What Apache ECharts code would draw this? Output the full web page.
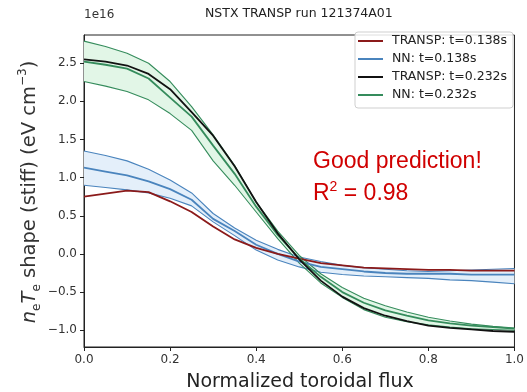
<!DOCTYPE html>
<html>
<head>
<meta charset="utf-8">
<script src="https://cdn.jsdelivr.net/npm/echarts@6/dist/echarts.min.js"></script>
<style>
  html, body { margin: 0; padding: 0; background: #fff; }
  #chart { width: 527px; height: 392px; }
</style>
</head>
<body>
<div id="chart"></div>
<script>
// Radial grid (normalized toroidal flux)
const fluxGrid = [0.00, 0.05, 0.10, 0.15, 0.20, 0.25, 0.30, 0.35, 0.40, 0.45, 0.50,
                  0.55, 0.60, 0.65, 0.70, 0.75, 0.80, 0.85, 0.90, 0.95, 1.00];

// Profiles in units of 1e16
const transp138 = [0.75, 0.79, 0.83, 0.81, 0.69, 0.55, 0.36, 0.19, 0.08, 0.00, -0.06,
                   -0.12, -0.15, -0.18, -0.19, -0.20, -0.21, -0.21, -0.22, -0.22, -0.22];
const nn138Mean  = [1.13, 1.08, 1.03, 0.95, 0.85, 0.71, 0.46, 0.30, 0.12, 0.00, -0.10,
                    -0.17, -0.20, -0.23, -0.25, -0.26, -0.26, -0.26, -0.27, -0.27, -0.27];
const nn138Upper = [1.35, 1.29, 1.22, 1.11, 0.97, 0.80, 0.53, 0.34, 0.18, 0.06, -0.04,
                    -0.10, -0.15, -0.18, -0.20, -0.22, -0.23, -0.22, -0.21, -0.20, -0.19];
const nn138Lower = [0.90, 0.87, 0.84, 0.80, 0.73, 0.63, 0.42, 0.24, 0.05, -0.08, -0.17,
                    -0.24, -0.27, -0.29, -0.30, -0.31, -0.32, -0.34, -0.35, -0.37, -0.39];

const transp232  = [2.55, 2.52, 2.47, 2.36, 2.16, 1.86, 1.55, 1.15, 0.68, 0.27, -0.07,
                    -0.35, -0.56, -0.71, -0.81, -0.88, -0.94, -0.97, -0.99, -1.01, -1.02];
const nn232Mean  = [2.52, 2.48, 2.43, 2.30, 2.05, 1.80, 1.42, 1.05, 0.62, 0.25, -0.06,
                    -0.30, -0.50, -0.64, -0.74, -0.81, -0.87, -0.91, -0.94, -0.96, -0.98];
const nn232Upper = [2.79, 2.72, 2.63, 2.50, 2.26, 1.93, 1.56, 1.16, 0.68, 0.30, -0.02,
                    -0.26, -0.44, -0.58, -0.68, -0.76, -0.83, -0.88, -0.92, -0.95, -0.97];
const nn232Lower = [2.26, 2.20, 2.13, 2.02, 1.84, 1.62, 1.22, 0.90, 0.55, 0.20, -0.12,
                    -0.38, -0.57, -0.73, -0.83, -0.89, -0.93, -0.96, -0.98, -0.99, -1.00];

const yTicks = [-1.0, -0.5, 0.0, 0.5, 1.0, 1.5, 2.0, 2.5];

const legendNames = ['TRANSP: t=0.138s', 'NN: t=0.138s', 'TRANSP: t=0.232s', 'NN: t=0.232s'];

const C_RED = '#8b1a1a', C_BLUE = '#4a84bd', C_BLACK = '#111111', C_GREEN = '#358c5c';
const FONT = 'DejaVu Sans';

const pairs = ys => fluxGrid.map((x, i) => [x, ys[i]]);
const fmt = v => (v < 0 ? '\u2212' : '') + Math.abs(v).toFixed(1);

// Shaded uncertainty band between lower and upper NN profiles, drawn as one polygon
function bandSeries(lower, upper, fill) {
  return {
    type: 'custom', silent: true, z: 1,
    data: fluxGrid.map((x, i) => [x, lower[i], upper[i]]),
    encode: { x: 0, y: [1, 2] },
    renderItem: (params, api) => {
      if (params.dataIndex !== 0) return null;
      const top = fluxGrid.map((x, i) => api.coord([x, upper[i]]));
      const bot = fluxGrid.map((x, i) => api.coord([x, lower[i]])).reverse();
      return { type: 'polygon', shape: { points: top.concat(bot) },
               style: { fill, stroke: null } };
    }
  };
}
function lineSeries(name, ys, color, width, z) {
  return { type: 'line', name, data: pairs(ys), symbol: 'none', z,
           itemStyle: { color }, lineStyle: { color, width } };
}

const chart = echarts.init(document.getElementById('chart'), null, { renderer: 'canvas' });

chart.setOption({
  animation: false,
  backgroundColor: '#fff',
  grid: { left: 84, right: 11, top: 35, bottom: 45, show: true,
          borderColor: '#222', borderWidth: 1, backgroundColor: 'transparent' },
  xAxis: {
    type: 'value', min: 0, max: 1, interval: 0.2,
    axisLine: { show: true, onZero: false, lineStyle: { color: '#222', width: 1 } },
    axisTick: { show: true, length: 4, lineStyle: { color: '#222' } },
    axisLabel: { margin: 7, color: '#333', fontFamily: FONT, fontSize: 12,
                 formatter: v => fmt(v) },
    splitLine: { show: false }
  },
  yAxis: {
    type: 'value', min: -1.22, max: 2.87,
    axisLine: { show: true, onZero: false, lineStyle: { color: '#222', width: 1 } },
    axisTick: { show: true, length: 4, customValues: yTicks, lineStyle: { color: '#222' } },
    axisLabel: { margin: 7, color: '#333', fontFamily: FONT, fontSize: 12,
                 customValues: yTicks, formatter: v => fmt(v) },
    splitLine: { show: false }
  },
  legend: {
    data: legendNames,
    orient: 'vertical', left: 355, top: 32,
    icon: 'rect', itemWidth: 25, itemHeight: 2, itemGap: 4,
    padding: [2, 6, 6, 3],
    backgroundColor: 'rgba(255,255,255,0.85)', borderColor: '#cfcfcf',
    borderWidth: 1, borderRadius: 3,
    textStyle: { fontFamily: FONT, fontSize: 12.5, color: '#222', lineHeight: 14,
                 padding: [0, 0, 0, 4] }
  },
  series: [
    bandSeries(nn232Lower, nn232Upper, '#e2f6e7'),
    bandSeries(nn138Lower, nn138Upper, '#e4effa'),
    lineSeries('nn138-upper', nn138Upper, C_BLUE, 1.1, 3),
    lineSeries('nn138-lower', nn138Lower, C_BLUE, 1.1, 3),
    lineSeries('nn232-upper', nn232Upper, C_GREEN, 1.1, 3),
    lineSeries('nn232-lower', nn232Lower, C_GREEN, 1.1, 3),
    lineSeries(legendNames[1], nn138Mean, C_BLUE, 1.8, 4),
    lineSeries(legendNames[0], transp138, C_RED, 1.8, 5),
    lineSeries(legendNames[3], nn232Mean, C_GREEN, 1.8, 6),
    lineSeries(legendNames[2], transp232, C_BLACK, 1.8, 7)
  ],
  graphic: [
    { type: 'text', left: 205, top: 7,
      style: { text: 'NSTX TRANSP run 121374A01', font: '12.5px "DejaVu Sans"', fill: '#222' } },
    { type: 'text', left: 84, top: 9,
      style: { text: '1e16', font: '12px "DejaVu Sans"', fill: '#333' } },
    { type: 'text', x: 300, y: 382,
      style: { text: 'Normalized toroidal flux', font: '19px "DejaVu Sans"', fill: '#222',
               align: 'center', verticalAlign: 'middle' } },
    { type: 'text', x: 30, y: 192, rotation: Math.PI / 2,
      style: {
        text: '{i|n}{sub|e}{i|T}{sub|e}{n| shape (stiff) (eV cm}{sup|\u22123}{n|)}',
        align: 'center', verticalAlign: 'middle', fill: '#333',
        rich: {
          i:   { fontFamily: FONT, fontSize: 19.5, fontStyle: 'italic', lineHeight: 26, fill: '#333' },
          n:   { fontFamily: FONT, fontSize: 19.5, lineHeight: 26, fill: '#333' },
          sub: { fontFamily: FONT, fontSize: 12, lineHeight: 14, verticalAlign: 'bottom', fill: '#333' },
          sup: { fontFamily: FONT, fontSize: 12, lineHeight: 14, verticalAlign: 'top', fill: '#333' }
        }
      } },
    { type: 'text', x: 313, y: 162,
      style: { text: 'Good prediction!', font: '23px "Liberation Sans"', fill: '#d00000',
               verticalAlign: 'middle' } },
    { type: 'text', x: 313, y: 194,
      style: {
        text: '{n|R}{sup|2}{n| = 0.98}', verticalAlign: 'middle',
        rich: {
          n:   { fontFamily: 'Liberation Sans', fontSize: 23, lineHeight: 28, fill: '#d00000' },
          sup: { fontFamily: 'Liberation Sans', fontSize: 14, lineHeight: 20, verticalAlign: 'top', fill: '#d00000' }
        }
      } }
  ]
});
</script>
</body>
</html>
